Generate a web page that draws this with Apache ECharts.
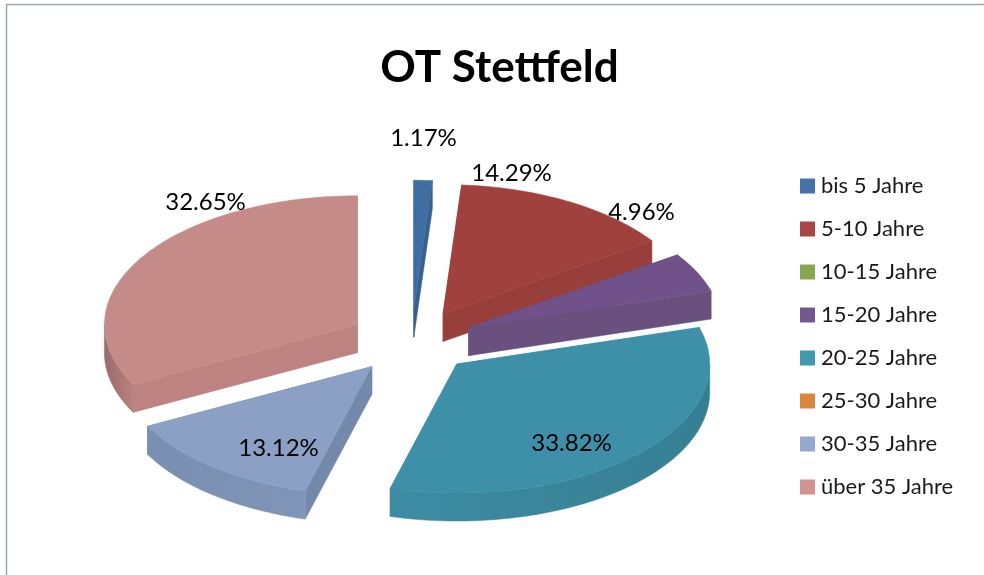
<!DOCTYPE html>
<html><head><meta charset="utf-8">
<style>html,body{margin:0;padding:0;background:#fff}#c{width:984px;height:575px}</style>
<script src="https://cdn.jsdelivr.net/npm/echarts@6/dist/echarts.min.js"></script>
</head><body><div id="c"></div>
<script>
const categories = ['bis 5 Jahre','5-10 Jahre','10-15 Jahre','15-20 Jahre','20-25 Jahre','25-30 Jahre','30-35 Jahre','über 35 Jahre'];
const values = [1.17,14.29,0,4.96,33.82,0,13.12,32.65];
const legendColors = ['#4572A7','#AA4643','#89A54E','#71588F','#4198AF','#DB843D','#93A9CF','#D19392'];
const topColors = ['#3F6EA3','#A0413E','#89A54E','#705189','#3E90A8','#DB843D','#8C9FC4','#C48B89'];
const faceColors = ['#36608F','#983F3C','#7A9445','#69507F','#3B8AA0','#C4762F','#7389AA','#BE8381'];
const rimLeft = ['#36608F','#983F3C','#7A9445','#69507F','#3D8CA3','#C4762F','#7A90B2','#9A6A6A'];
const rimRight = ['#36608F','#983F3C','#7A9445','#64507B','#367F93','#C4762F','#7F94B6','#BA8280'];
const labelDx = [12,100,0,230,160,0,-133,-206];
const labelDy = [-203.5,-168.5,0,-129.5,101.5,0,106.5,-139.5];

const cx = 411.5, cy = 341.5, rx = 253, ry = 129, explode = 0.25, depth = 28;
const total = values.reduce((a,b)=>a+b,0);
const starts = [];
values.reduce((acc,v,i)=>{starts[i]=acc;return acc+v/total*360;},0);
const rad = d => d*Math.PI/180;

function makeRender(i){
  return function(params, api){
    const v = api.value(0);
    if(!v) return {type:'group',children:[]};
    const a0 = starts[i], a1 = a0 + v/total*360, mid = (a0+a1)/2;
    const ax = cx + explode*rx*Math.sin(rad(mid));
    const ay = cy - explode*ry*Math.cos(rad(mid));
    const P = (a,d=0)=>[ax+rx*Math.sin(rad(a)), ay-ry*Math.cos(rad(a))+d];
    const arc = (s,e,d=0)=>{const p=[];const n=Math.max(2,Math.ceil((e-s)/1.5));for(let k=0;k<=n;k++)p.push(P(s+(e-s)*k/n,d));return p;};
    const children = [];
    const poly = (pts,fill)=>children.push({type:'polygon',shape:{points:pts},style:{fill:fill,stroke:fill,lineWidth:0.5}});
    poly([[ax,ay],P(a0),P(a0,depth),[ax,ay+depth]],faceColors[i]);
    poly([[ax,ay],P(a1),P(a1,depth),[ax,ay+depth]],faceColors[i]);
    const s = Math.max(a0,90), e = Math.min(a1,270);
    if(e>s){
      const top = arc(s,e), bot = arc(s,e,depth).reverse();
      poly(top.concat(bot),{type:'linear',x:1,y:0,x2:0,y2:0,colorStops:[{offset:0,color:rimRight[i]},{offset:1,color:rimLeft[i]}]});
    }
    poly([[ax,ay]].concat(arc(a0,a1)),topColors[i]);
    return {type:'group',children};
  };
}
function makeLabel(){
  return function(params, api){
    const i = params.dataIndex;
    const v = values[i];
    if(!v) return {type:'group',children:[]};
    return {type:'text',style:{text:v.toFixed(2)+'%',x:cx+labelDx[i],y:cy+labelDy[i],align:'center',verticalAlign:'middle',font:'24px Lato',fill:'#000'}};
  };
}
const series = categories.map((name,i)=>({
  name, type:'custom', coordinateSystem:'none', renderItem:makeRender(i),
  data:[[values[i]]], itemStyle:{color:legendColors[i]}, z:2+i, silent:true, animation:false
}));
series.push({type:'custom',coordinateSystem:'none',renderItem:makeLabel(),data:values.map(v=>[v]),z:20,silent:true,animation:false});

const chart = echarts.init(document.getElementById('c'),null,{renderer:'canvas'});
chart.setOption({
  animation:false,
  backgroundColor:'#fff',
  title:{text:'OT Stettfeld',left:494.5,top:41,textAlign:'center',textStyle:{fontFamily:'Lato',fontWeight:'bold',fontSize:44,color:'#000'}},
  legend:{orient:'vertical',left:795,top:170,itemWidth:15,itemHeight:15,itemGap:21,icon:'rect',data:categories,selectedMode:false,
    textStyle:{fontFamily:'Lato',fontSize:22,color:'#1a1a1a',padding:[0,0,6,1]}},
  graphic:[{type:'rect',silent:true,shape:{x:6.5,y:4.5,width:1100,height:800},style:{fill:'none',stroke:'#9FA8B2',lineWidth:1.5}}],
  series
});
</script></body></html>
